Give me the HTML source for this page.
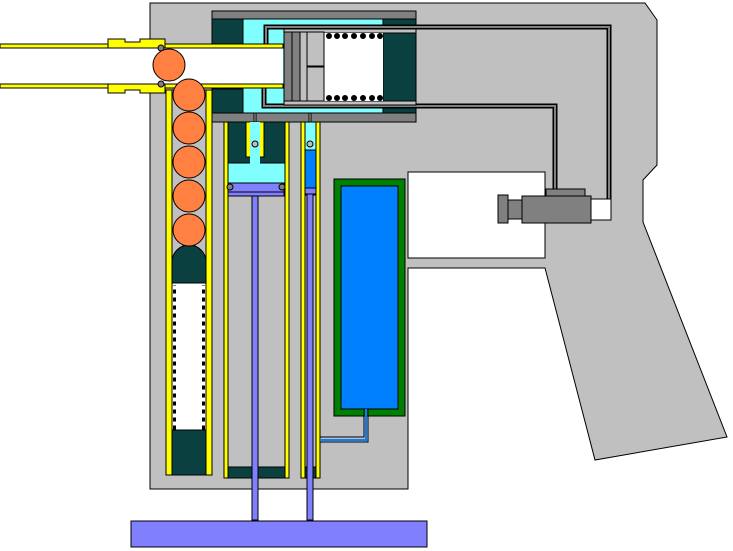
<!DOCTYPE html>
<html><head><meta charset="utf-8"><style>html,body{margin:0;padding:0;background:#fff}svg{display:block}</style></head><body>
<svg width="733" height="551" viewBox="0 0 733 551" xmlns="http://www.w3.org/2000/svg" stroke="#000" stroke-width="1">
<defs><pattern id="d" width="3" height="8" patternUnits="userSpaceOnUse"><rect x="0" y="2" width="3" height="3" fill="#000"/></pattern></defs>
<!-- body -->
<polygon points="150,3 645,3 657,20 657,165 643,180 643,222 727,437 595,460 545,268 408,268 408,489 150,489" fill="#c0c0c0"/>
<rect x="408" y="172" width="137" height="86" fill="#fff"/>
<!-- top cylinder -->
<rect x="212" y="11" width="204" height="8" fill="#808080"/>
<rect x="212" y="19" width="204" height="94" fill="#80ffff"/>
<rect x="212" y="19" width="31" height="26" fill="#0a4040"/>
<rect x="212" y="89" width="31" height="24" fill="#0a4040"/>
<rect x="383" y="19" width="33" height="94" fill="#0a4040"/>
<rect x="212" y="113" width="42" height="9" fill="#808080"/>
<rect x="256" y="113" width="53" height="9" fill="#808080"/>
<rect x="311" y="113" width="105" height="9" fill="#808080"/>
<!-- pipes -->
<path d="M266,44 V27 H609 V200" fill="none" stroke="#000" stroke-width="5"/>
<path d="M266,44 V27 H609 V200" fill="none" stroke="#808080" stroke-width="2"/>
<path d="M264,84 V106 H555 V190" fill="none" stroke="#000" stroke-width="5"/>
<path d="M264,84 V106 H555 V190" fill="none" stroke="#808080" stroke-width="2"/>
<!-- piston -->
<rect x="284" y="29" width="132" height="4" fill="#c0c0c0"/>
<rect x="284" y="101" width="132" height="4" fill="#c0c0c0"/>
<rect x="324" y="33" width="59" height="68" fill="#fff" stroke="none"/>
<rect x="284" y="32" width="8" height="69" fill="#808080"/>
<rect x="292" y="32" width="8" height="69" fill="#808080"/>
<rect x="300" y="32" width="7" height="69" fill="#c0c0c0"/>
<rect x="307" y="32" width="17" height="34" fill="#c0c0c0"/>
<rect x="307" y="67" width="17" height="34" fill="#c0c0c0"/>
<g fill="#000" stroke="none">
<circle cx="329" cy="36" r="3"/><circle cx="337" cy="36" r="3"/><circle cx="345" cy="36" r="3"/><circle cx="354" cy="36" r="3"/><circle cx="363" cy="36" r="3"/><circle cx="372" cy="36" r="3"/><circle cx="380" cy="36" r="3"/>
<circle cx="329" cy="98" r="3"/><circle cx="337" cy="98" r="3"/><circle cx="345" cy="98" r="3"/><circle cx="354" cy="98" r="3"/><circle cx="363" cy="98" r="3"/><circle cx="372" cy="98" r="3"/><circle cx="380" cy="98" r="3"/>
</g>
<!-- barrel -->
<rect x="0" y="48" width="283" height="36" fill="#fff" stroke="none"/>
<rect x="0" y="44" width="283" height="4" fill="#ffff00"/>
<rect x="0" y="84" width="283" height="4" fill="#ffff00"/>
<polygon points="108,39 125,39 125,42 140,42 140,39 165,39 165,48 108,48" fill="#ffff00"/>
<polygon points="108,93 125,93 125,90 140,90 140,93 165,93 165,84 108,84" fill="#ffff00"/>
<circle cx="161" cy="48" r="3" fill="#808080"/>
<circle cx="161" cy="84" r="3" fill="#808080"/>
<!-- magazine -->
<rect x="166" y="90" width="46" height="385" fill="#ffff00"/>
<rect x="172" y="90" width="34" height="385" fill="#c0c0c0"/>
<rect x="172" y="283" width="34" height="150" fill="#fff"/>
<path d="M172,283 V262 a17,17 0 0 1 34,0 V283 Z" fill="#0a4040"/>
<rect x="172" y="430" width="34" height="45" fill="#0a4040"/>
<rect x="173" y="285" width="3" height="145" fill="url(#d)" stroke="none"/>
<rect x="202" y="285" width="3" height="145" fill="url(#d)" stroke="none"/>
<g fill="#ff8040">
<circle cx="169" cy="65" r="16"/>
<circle cx="189" cy="95" r="16"/>
<circle cx="189" cy="128" r="16"/>
<circle cx="189" cy="162" r="16"/>
<circle cx="189" cy="196" r="16"/>
<circle cx="189" cy="230" r="16"/>
</g>
<!-- left cylinder -->
<rect x="224" y="122" width="4" height="356" fill="#ffff00"/>
<rect x="285" y="122" width="4" height="356" fill="#ffff00"/>
<rect x="228" y="122" width="57" height="41" fill="#0a4040"/>
<rect x="228" y="163" width="57" height="20" fill="#80ffff"/>
<rect x="246" y="122" width="18" height="35" fill="#ffff00"/>
<rect x="250" y="122" width="10" height="42" fill="#80ffff" stroke="none"/>
<circle cx="255" cy="144" r="3" fill="#c0c0c0"/>
<rect x="228" y="183" width="56" height="9" fill="#8080ff"/>
<rect x="228" y="192" width="56" height="4" fill="#8080ff"/>
<circle cx="230" cy="187" r="3" fill="#808080"/>
<circle cx="282" cy="187" r="3" fill="#808080"/>
<rect x="252" y="196" width="6" height="324" fill="#8080ff"/>
<rect x="228" y="467" width="24" height="11" fill="#0a4040"/>
<rect x="258" y="467" width="27" height="11" fill="#0a4040"/>
<!-- right small cylinder -->
<rect x="301" y="122" width="4" height="356" fill="#ffff00"/>
<rect x="316" y="122" width="4" height="356" fill="#ffff00"/>
<rect x="305" y="122" width="11" height="28" fill="#80ffff"/>
<rect x="305" y="150" width="11" height="45" fill="#0080ff"/>
<circle cx="310" cy="144" r="3" fill="#c0c0c0"/>
<rect x="305" y="188" width="11" height="6" fill="#8080ff"/>
<rect x="307" y="194" width="6" height="326" fill="#8080ff"/>
<rect x="305" y="467" width="2" height="11" fill="#0a4040"/>
<rect x="313" y="467" width="3" height="11" fill="#0a4040"/>
<!-- tank -->
<rect x="334" y="179" width="71" height="237" fill="#008000"/>
<rect x="341" y="186" width="57" height="223" fill="#0080ff"/>
<path d="M364,409 V437 H320 M368,409 V442 H320" fill="none" stroke="#000" stroke-width="1"/>
<path d="M366,409 V440 H320" fill="none" stroke="#0080ff" stroke-width="2"/>
<!-- gas canister -->
<rect x="546" y="189" width="39" height="7" fill="#808080"/>
<rect x="522" y="196" width="69" height="27" fill="#808080"/>
<rect x="508" y="200" width="14" height="19" fill="#808080"/>
<rect x="498" y="195" width="10" height="28" fill="#808080"/>
<rect x="591" y="199" width="20" height="21" fill="#fff"/>
<!-- base -->
<rect x="131" y="521" width="296" height="26" fill="#8080ff"/>
</svg>
</body></html>
